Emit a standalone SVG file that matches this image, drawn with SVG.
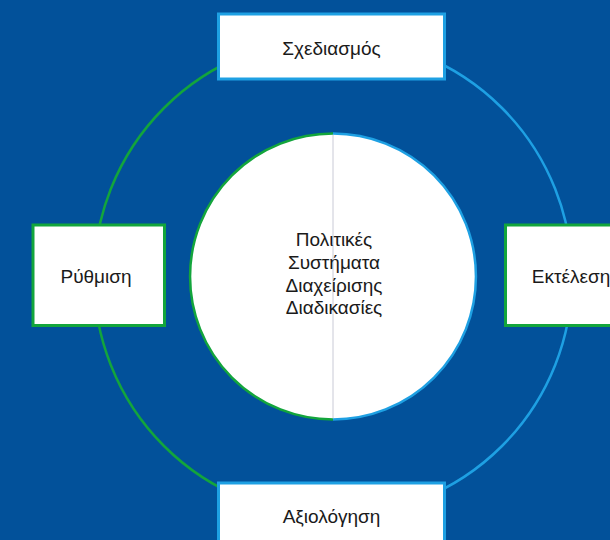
<svg xmlns="http://www.w3.org/2000/svg" width="610" height="540" viewBox="0 0 610 540">
<style>
.bg{fill:#02519a}
.green{stroke:#13a53c}
.blue{stroke:#1ea0e3}
.ring{fill:none;stroke-width:2.5}
.box{fill:#ffffff;stroke-width:3}
.lbl{font-family:"Liberation Sans",Arial,sans-serif;font-size:19px;fill:#1a1a1a;text-anchor:middle}
</style>
<rect class="bg" x="0" y="0" width="610" height="540"/>
<g id="connectors">
<path class="ring green" d="M333,38 A239,239 0 0 0 333,516"/>
<path class="ring blue" d="M333,38 A239,239 0 0 1 333,516"/>
</g>
<g id="center">
<circle cx="333" cy="276.5" r="143" fill="#ffffff"/>
<path class="ring green" d="M333,133.5 A143,143 0 0 0 333,419.5"/>
<path class="ring blue" d="M333,133.5 A143,143 0 0 1 333,419.5"/>
<line x1="333" y1="135" x2="333" y2="418" stroke="#c9cad6" stroke-width="1"/>
<text class="lbl" x="334" y="246">Πολιτικές</text>
<text class="lbl" x="334" y="269">Συστήματα</text>
<text class="lbl" x="334" y="292">Διαχείρισης</text>
<text class="lbl" x="334" y="314">Διαδικασίες</text>
</g>
<g id="plan">
<rect class="box blue" x="218.5" y="14" width="226" height="65"/>
<text class="lbl" x="331.5" y="55">Σχεδιασμός</text>
</g>
<g id="execute">
<rect class="box green" x="505.5" y="225" width="132" height="100.5"/>
<text class="lbl" x="571" y="283">Εκτέλεση</text>
</g>
<g id="evaluate">
<rect class="box blue" x="218.5" y="483" width="226" height="65"/>
<text class="lbl" x="331.5" y="523">Αξιολόγηση</text>
</g>
<g id="adjust">
<rect class="box green" x="33" y="225" width="131.5" height="100.5"/>
<text class="lbl" x="96" y="283">Ρύθμιση</text>
</g>
</svg>
